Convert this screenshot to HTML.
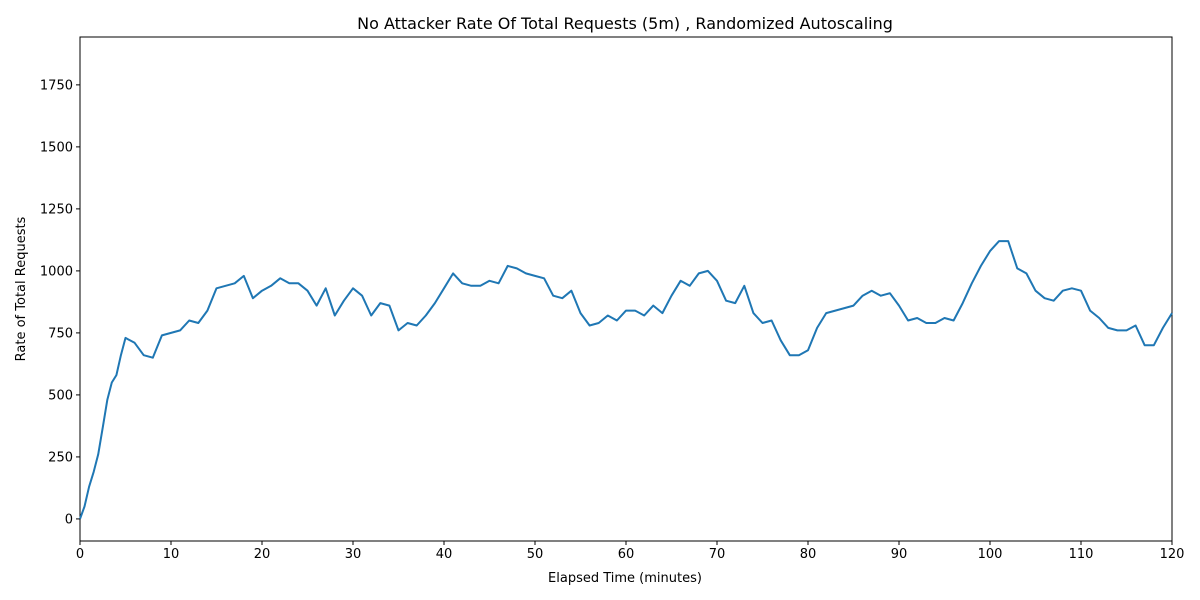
<!DOCTYPE html>
<html><head><meta charset="utf-8">
<style>
body{margin:0;background:#fff;}
svg{display:block;font-family:"DejaVu Sans","Liberation Sans",sans-serif;}
</style></head>
<body>
<svg id="chart" width="1200" height="600" xmlns="http://www.w3.org/2000/svg">
<rect width="1200" height="600" fill="#fff"/>
<text x="625" y="29" text-anchor="middle" font-size="16">No Attacker Rate Of Total Requests (5m) , Randomized Autoscaling</text>
<g id="plot"></g>
<rect x="80" y="37" width="1092" height="504" fill="none" stroke="#000" stroke-width="1"/>
<text x="625" y="582" text-anchor="middle" font-size="13">Elapsed Time (minutes)</text>
<text transform="translate(25,289) rotate(-90)" text-anchor="middle" font-size="13">Rate of Total Requests</text>
</svg>
<script>
const times=[0,0.5,1,1.5,2,2.5,3,3.5,4,4.5,5,6,7,8,9,10,11,12,13,14,15,16,17,18,19,20,21,22,23,24,25,26,27,28,29,30,31,32,33,34,35,36,37,38,39,40,41,42,43,44,45,46,47,48,49,50,51,52,53,54,55,56,57,58,59,60,61,62,63,64,65,66,67,68,69,70,71,72,73,74,75,76,77,78,79,80,81,82,83,84,85,86,87,88,89,90,91,92,93,94,95,96,97,98,99,100,101,102,103,104,105,106,107,108,109,110,111,112,113,114,115,116,117,118,119,120];
const values=[0,50,130,190,260,370,480,550,580,660,730,710,660,650,740,750,760,800,790,840,930,940,950,980,890,920,940,970,950,950,920,860,930,820,880,930,900,820,870,860,760,790,780,820,870,930,990,950,940,940,960,950,1020,1010,990,980,970,900,890,920,830,780,790,820,800,840,840,820,860,830,900,960,940,990,1000,960,880,870,940,830,790,800,720,660,660,680,770,830,840,850,860,900,920,900,910,860,800,810,790,790,810,800,870,950,1020,1080,1120,1120,1010,990,920,890,880,920,930,920,840,810,770,760,760,780,700,700,770,830];
const xTicks=[0,10,20,30,40,50,60,70,80,90,100,110,120];
const yTicks=[0,250,500,750,1000,1250,1500,1750];
const X0=80,X1=1172,Y0=541,Y1=37,xMin=0,xMax=120,yMin=-89,yMax=1943;
const sx=v=>X0+(v-xMin)/(xMax-xMin)*(X1-X0);
const sy=v=>Y0-(v-yMin)/(yMax-yMin)*(Y0-Y1);
const NS="http://www.w3.org/2000/svg";
const svg=document.getElementById('chart');
function mk(t,a){const e=document.createElementNS(NS,t);for(const k in a)e.setAttribute(k,a[k]);svg.appendChild(e);return e;}
xTicks.forEach(t=>{
 const l=mk('line',{x1:sx(t),x2:sx(t),y1:Y0,y2:Y0+4,stroke:'#000'});
 
 
 const tx=mk('text',{x:sx(t),y:Y0+17,'text-anchor':'middle','font-size':13});
 
 
 tx.textContent=t;
});
yTicks.forEach(t=>{
 const l=mk('line',{x1:X0-4,x2:X0,y1:sy(t),y2:sy(t),stroke:'#000'});
 
 
 const tx=mk('text',{x:X0-7,y:sy(t)+4.5,'text-anchor':'end','font-size':13});
 
 
 tx.textContent=t;
});
const pts=times.map((t,i)=>sx(t).toFixed(1)+','+sy(values[i]).toFixed(1)).join(' ');
const pl=mk('polyline',{points:pts,fill:'none',stroke:'#1f77b4','stroke-width':2,'stroke-linejoin':'round'});


</script>
</body></html>
